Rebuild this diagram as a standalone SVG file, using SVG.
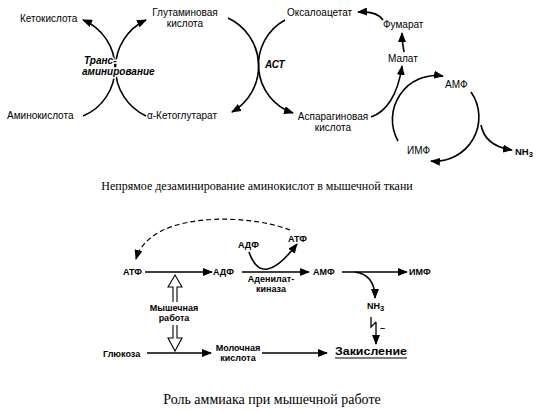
<svg xmlns="http://www.w3.org/2000/svg" width="541" height="411" viewBox="0 0 541 411">
<defs>
<style>
.t{font-family:"Liberation Sans",Arial,sans-serif;font-size:10px;fill:#000}
.b{font-family:"Liberation Sans",Arial,sans-serif;font-size:9px;font-weight:bold;fill:#000}
.bi{font-family:"Liberation Sans",Arial,sans-serif;font-size:10px;font-weight:bold;font-style:italic;fill:#000;stroke:#fff;stroke-width:3px;paint-order:stroke}
.cap{font-family:"Liberation Serif","Times New Roman",serif;font-size:12px;fill:#000}
.ln{fill:none;stroke:#000;stroke-width:1.6}
.la{fill:none;stroke:#000;stroke-width:1.6;marker-end:url(#ah)}
.dash{fill:none;stroke:#000;stroke-width:1.2;stroke-dasharray:5 3;marker-end:url(#ah)}
.hol{fill:#fff;stroke:#000;stroke-width:1.1}
</style>
<marker id="ah" viewBox="0 0 10 8" refX="9" refY="4" markerWidth="10" markerHeight="8" markerUnits="userSpaceOnUse" orient="auto">
<path d="M0,0 L10,4 L0,8 Z" fill="#000"/>
</marker>
</defs>

<g id="connectors">
<path class="la" d="M83,116 A52,52 0 0 0 83,20"/>
<path class="la" d="M146,116 A53,53 0 0 1 146,20"/>
<path class="la" d="M228,18 A53,53 0 0 1 232,112"/>
<path class="la" d="M285,20 A51,51 0 0 0 293,113"/>
<path class="la" d="M383,20 Q377,11 358,12"/>
<path class="la" d="M404,52 Q402,42 402,33"/>
<path class="la" d="M371,117 C386,112 398,95 402,66"/>
<path class="la" d="M398,141 A44,44 0 0 1 443,76"/>
<path class="la" d="M471,92 A44,44 0 0 1 431,161"/>
<path class="la" d="M481,125 Q485,146 512,150"/>
<path class="la" d="M145,272 H212"/>
<path class="la" d="M242,272 H309"/>
<path class="la" d="M342,272 H407"/>
<path class="la" d="M249,252 Q262,290 297,244"/>
<path class="dash" d="M290,230 C250,214 150,210 136,259"/>
<path class="la" d="M355,272 C370,274 375,284 375,298"/>
<path class="la" d="M147,353 H211"/>
<path class="la" d="M262,353 H327"/>
<path class="ln" d="M371,317 V327 L376,322" style="stroke-width:1.3"/>
<path class="la" d="M376,322 V344" style="stroke-width:1.3"/>
<path class="hol" d="M173,302 V287 H168 L175,275 L182,287 H177 V302"/>
<path class="hol" d="M173,325 V338 H168 L175,351 L182,338 H177 V325"/>
</g>

<g id="n-ketoacid"><text class="t" x="20" y="22">Кетокислота</text></g>
<g id="n-glu"><text class="t" x="185" y="16" text-anchor="middle">Глутаминовая</text><text class="t" x="185" y="27" text-anchor="middle">кислота</text></g>
<g id="n-trans"><text class="bi" x="84" y="64">Транс-</text><text class="bi" x="82" y="75">аминирование</text></g>
<g id="n-aminoacid"><text class="t" x="7" y="119">Аминокислота</text></g>
<g id="n-akg"><text class="t" x="147" y="119">α-Кетоглутарат</text></g>
<g id="n-ast"><text class="bi" x="265" y="68">АСТ</text></g>
<g id="n-oaa"><text class="t" x="287" y="16">Оксалоацетат</text></g>
<g id="n-fum"><text class="t" x="383" y="28">Фумарат</text></g>
<g id="n-mal"><text class="t" x="388" y="62">Малат</text></g>
<g id="n-asp"><text class="t" x="333" y="120" text-anchor="middle">Аспарагиновая</text><text class="t" x="333" y="131" text-anchor="middle">кислота</text></g>
<g id="n-amp1"><text class="t" x="445" y="88">АМФ</text></g>
<g id="n-imp1"><text class="t" x="407" y="154">ИМФ</text></g>
<g id="n-nh3a"><text class="b" x="515" y="155" style="font-size:9.5px">NH<tspan style="font-size:7.5px" dy="2">3</tspan></text></g>

<g id="cap1"><text class="cap" x="257" y="190" text-anchor="middle">Непрямое дезаминирование аминокислот в мышечной ткани</text></g>

<g id="n-atp"><text class="b" x="123" y="275">АТФ</text></g>
<g id="n-adp"><text class="b" x="213" y="275">АДФ</text></g>
<g id="n-amp2"><text class="b" x="313" y="275">АМФ</text></g>
<g id="n-imp2"><text class="b" x="409" y="275">ИМФ</text></g>
<g id="n-adp2"><text class="b" x="238" y="248">АДФ</text></g>
<g id="n-atp2"><text class="b" x="288" y="242">АТФ</text></g>
<g id="n-ak"><text class="b" x="271" y="282" text-anchor="middle">Аденилат-</text><text class="b" x="271" y="292" text-anchor="middle">киназа</text></g>
<g id="n-work"><text class="b" x="174" y="311" text-anchor="middle">Мышечная</text><text class="b" x="174" y="321" text-anchor="middle">работа</text></g>
<g id="n-nh3b"><text class="b" x="367" y="309">NH<tspan style="font-size:7.5px" dy="2">3</tspan></text><text class="b" x="380" y="331">–</text></g>
<g id="n-glc"><text class="b" x="103" y="357">Глюкоза</text></g>
<g id="n-lac"><text class="b" x="238" y="351" text-anchor="middle">Молочная</text><text class="b" x="238" y="361" text-anchor="middle">кислота</text></g>
<g id="n-acid"><text class="b" x="335" y="355" style="font-size:11px" textLength="72" lengthAdjust="spacingAndGlyphs">Закисление</text><path d="M335,358 H407" stroke="#000" stroke-width="1.2"/></g>

<g id="cap2"><text class="cap" x="272" y="404" text-anchor="middle" style="font-size:14px">Роль аммиака при мышечной работе</text></g>
</svg>
